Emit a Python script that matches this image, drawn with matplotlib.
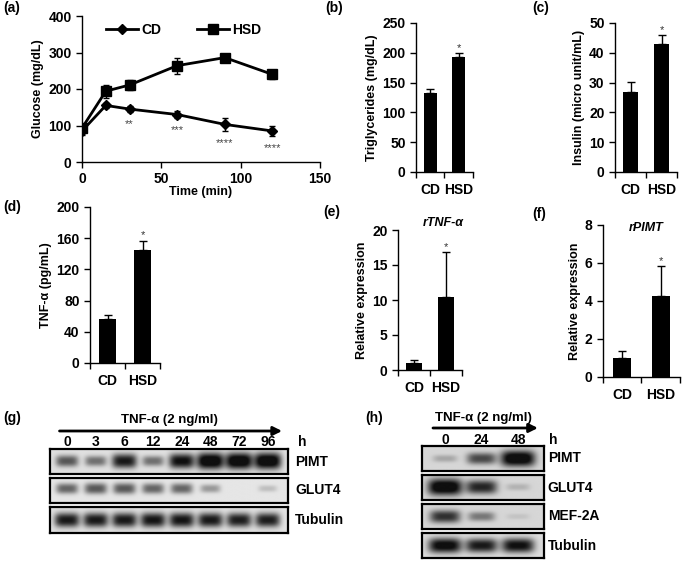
import numpy as np
import matplotlib.pyplot as plt
from matplotlib.transforms import blended_transform_factory

plt.rcParams['font.family'] = ['Liberation Sans', 'DejaVu Sans']
plt.rcParams['font.weight'] = 'bold'
plt.rcParams['axes.labelweight'] = 'bold'
plt.rcParams['font.size'] = 9
plt.rcParams['axes.linewidth'] = 1.0

W, H = 685, 565

# (a) glucose tolerance test
time_min = [0, 15, 30, 60, 90, 120]
cd_glucose = [85, 155, 145, 130, 103, 85]
cd_glucose_err = [10, 8, 8, 10, 18, 13]
hsd_glucose = [93, 194, 211, 264, 286, 240]
hsd_glucose_err = [10, 18, 15, 22, 8, 12]
glucose_stars = ['', '', '**', '***', '****', '****']

# (b)-(f) bar panels
groups = ['CD', 'HSD']
triglycerides = [133, 193]
triglycerides_err = [6, 7]
insulin = [27, 43]
insulin_err = [3.3, 3.0]
tnf_serum = [56, 145]
tnf_serum_err = [5, 12]
rtnf_expr = [1.0, 10.4]
rtnf_expr_err = [0.43, 6.5]
rpimt_expr = [1.02, 4.27]
rpimt_expr_err = [0.33, 1.55]
bar_stars = ['', '*']

# (g), (h) western blots: relative band intensity per lane
g_lanes = ['0', '3', '6', '12', '24', '48', '72', '96']
g_pimt = [0.55, 0.45, 0.8, 0.45, 0.85, 1.0, 1.0, 1.0]
g_glut4 = [0.5, 0.55, 0.55, 0.5, 0.5, 0.3, 0.0, 0.15]
g_tubulin = [0.8, 0.8, 0.8, 0.82, 0.82, 0.8, 0.78, 0.78]

h_lanes = ['0', '24', '48']
h_pimt = [0.2, 0.6, 1.0]
h_glut4 = [1.0, 0.75, 0.15]
h_mef2a = [0.7, 0.4, 0.08]
h_tubulin = [0.9, 0.8, 0.85]


def px_rect(l, t, r, b):
    # pixel box (left, top, right, bottom) -> figure fraction rect
    return [l / W, 1 - b / H, (r - l) / W, (b - t) / H]


def style_axes(ax):
    for s in ['top', 'right']:
        ax.spines[s].set_visible(False)
    ax.tick_params(direction='out', length=4, width=1, labelsize=10)


def bar_panel(box, vals, errs, ymax, step, ylabel):
    ax = fig.add_axes(px_rect(*box))
    style_axes(ax)
    x = np.arange(1, len(groups) + 1)
    ax.bar(x, vals, width=0.47, color='black')
    ax.errorbar(x, vals, yerr=[np.zeros(len(errs)), errs], fmt='none',
                ecolor='black', elinewidth=1, capsize=3, capthick=1)
    for xi, v, e, s in zip(x, vals, errs, bar_stars):
        if s:
            ax.annotate(s, (xi, v + e), xytext=(0, 0), textcoords='offset points',
                        ha='center', va='bottom', fontsize=8,
                        fontweight='normal', color='#333333')
    ax.set_xlim(0.5, 2.5)
    ax.set_ylim(0, ymax)
    ax.set_yticks(np.arange(0, ymax + step / 2, step))
    ax.set_xticks([0.5, 1.5, 2.5])
    ax.set_xticklabels([])
    ax.set_xticks(x, minor=True)
    ax.set_xticklabels(groups, minor=True)
    ax.tick_params(axis='x', which='minor', length=0, pad=8, labelsize=10)
    ax.set_ylabel(ylabel, labelpad=3)
    return ax


def blot(box, name, intens, xlim, ypos=0.5, bg=0.88):
    ax = fig.add_axes(px_rect(*box))
    xs = np.linspace(xlim[0], xlim[1], 500)
    ys = np.linspace(0, 1, 80)
    X, Y = np.meshgrid(xs, ys)
    dark = np.zeros_like(X)
    for c, I in enumerate(intens):
        if I <= 0:
            continue
        w = 0.30 + 0.17 * I
        h = 0.10 + 0.22 * I
        dark += I * np.exp(-np.abs((X - c) / w) ** 4 - np.abs((Y - ypos) / h) ** 2.5)
    dark = np.clip(dark * 1.2, 0, 1)
    img = bg - (bg - 0.06) * dark
    ax.imshow(img, cmap='gray', vmin=0, vmax=1, origin='lower', aspect='auto',
              extent=(xlim[0], xlim[1], 0, 1), interpolation='bilinear')
    ax.set_xlim(xlim)
    ax.set_ylim(0, 1)
    ax.set_xticks([])
    ax.set_yticks([])
    for s in ax.spines.values():
        s.set_linewidth(1.6)
    ax.text(1.03, 0.5, name, transform=ax.transAxes, ha='left', va='center',
            fontsize=10)
    return ax


def blot_header(ax, lanes, arrow_x, title_x):
    trans = blended_transform_factory(ax.transData, ax.transAxes)
    for i, lab in enumerate(lanes):
        ax.text(i, 1.26, lab, transform=trans, ha='center', va='center', fontsize=10)
    ax.text(1.04, 1.26, 'h', transform=ax.transAxes, ha='left', va='center', fontsize=10)
    ax.annotate('', xy=(arrow_x[1], 1.72), xytext=(arrow_x[0], 1.72),
                xycoords='axes fraction', textcoords='axes fraction',
                arrowprops=dict(arrowstyle='-|>', lw=2, color='black',
                                mutation_scale=13, shrinkA=0, shrinkB=0))
    ax.text(title_x, 2.14, 'TNF-α (2 ng/ml)', transform=ax.transAxes,
            ha='center', va='center', fontsize=9.5)


fig = plt.figure(figsize=(W / 100, H / 100), dpi=100)

# ---- (a) ----
ax = fig.add_axes(px_rect(82, 16, 320, 162))
style_axes(ax)
ax.plot(time_min, cd_glucose, color='black', lw=2, marker='D', ms=5.5, label='CD')
ax.plot(time_min, hsd_glucose, color='black', lw=2, marker='s', ms=7.5, label='HSD')
ax.errorbar(time_min, cd_glucose, yerr=cd_glucose_err, fmt='none', ecolor='black',
            elinewidth=1, capsize=2.5, capthick=1)
ax.errorbar(time_min, hsd_glucose, yerr=hsd_glucose_err, fmt='none', ecolor='black',
            elinewidth=1, capsize=2.5, capthick=1)
for t, v, e, s in zip(time_min, cd_glucose, cd_glucose_err, glucose_stars):
    if s:
        ax.annotate(s, (t, v - e), xytext=(0, -5), textcoords='offset points',
                    ha='center', va='top', fontsize=8, fontweight='normal',
                    color='#444444')
ax.set_xlim(0, 150)
ax.set_ylim(0, 400)
ax.set_xticks([0, 50, 100, 150])
ax.set_yticks([0, 100, 200, 300, 400])
ax.set_xlabel('Time (min)', labelpad=0)
ax.set_ylabel('Glucose (mg/dL)', labelpad=3)
ax.legend(loc='upper left', bbox_to_anchor=(0.05, 1.04), ncol=2, frameon=False,
          handlelength=2.3, columnspacing=2.6, handletextpad=0.2, fontsize=10)

# ---- bars ----
bar_panel((416, 23, 473, 172), triglycerides, triglycerides_err, 250, 50,
          'Triglycerides (mg/dL)')
bar_panel((615, 23, 677, 172), insulin, insulin_err, 50, 10,
          'Insulin (micro unit/mL)')
bar_panel((90, 207, 160, 363), tnf_serum, tnf_serum_err, 200, 40, 'TNF-α (pg/mL)')
ax_e = bar_panel((398, 230, 462, 370), rtnf_expr, rtnf_expr_err, 20, 5,
                 'Relative expression')
ax_e.text(0.70, 1.05, 'rTNF-α', transform=ax_e.transAxes, ha='center',
          va='center', style='italic', fontsize=9)
ax_f = bar_panel((603, 225, 680, 377), rpimt_expr, rpimt_expr_err, 8, 2,
                 'Relative expression')
ax_f.text(0.56, 0.98, 'rPIMT', transform=ax_f.transAxes, ha='center',
          va='center', style='italic', fontsize=9)

# ---- (g) blot ----
gx = (-0.59, 7.7)
ga = blot((50, 449, 288, 474), 'PIMT', g_pimt, gx)
blot((50, 478, 288, 503), 'GLUT4', g_glut4, gx, ypos=0.58, bg=0.9)
blot((50, 507, 288, 533), 'Tubulin', g_tubulin, gx)
blot_header(ga, g_lanes, (0.04, 0.975), 0.5)

# ---- (h) blot ----
hx = (-0.63, 2.71)
ha_ = blot((422, 446, 544, 471), 'PIMT', h_pimt, hx, bg=0.84)
blot((422, 475, 544, 500), 'GLUT4', h_glut4, hx, bg=0.84)
blot((422, 504, 544, 529), 'MEF-2A', h_mef2a, hx, bg=0.84)
blot((422, 533, 544, 558), 'Tubulin', h_tubulin, hx, bg=0.86)
blot_header(ha_, h_lanes, (0.09, 0.95), 0.5)

# panel letters
for lab, x, y in [('(a)', 3, 8), ('(b)', 325, 8), ('(c)', 532, 8),
                  ('(d)', 3, 207), ('(e)', 323, 212), ('(f)', 532, 214),
                  ('(g)', 3, 418), ('(h)', 365, 418)]:
    fig.text(x / W, 1 - y / H, lab, ha='left', va='center', fontsize=10)

fig.savefig('out.png', dpi=100)
